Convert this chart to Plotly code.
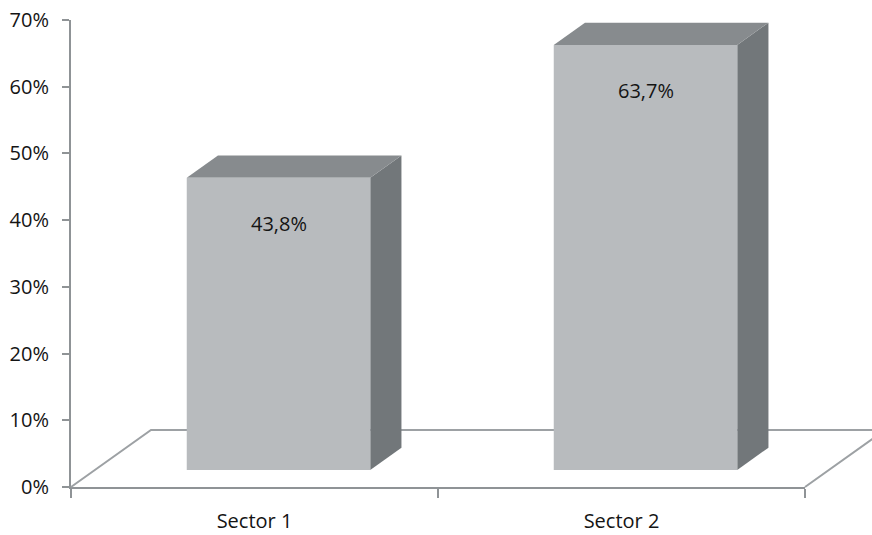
import plotly.graph_objects as go

# Data
categories = ["Sector 1", "Sector 2"]
values = [43.8, 63.7]
y_ticks = [0, 10, 20, 30, 40, 50, 60, 70]

# Figure / plot box geometry (pixels)
W, H = 872, 535
L, R, T, B = 71, 805, 20, 487
Y_MAX = 70

px_per_cat = (R - L) / len(categories)
px_per_pct = (B - T) / Y_MAX

# 3D look: floor depth vector (pixels -> data units)
depth_dx = 80 / px_per_cat
depth_dy = 57 / px_per_pct
f_front, f_back = 0.30, 0.69   # bar depth placement within the floor
half_w = 0.25                  # half bar width, in category units

FRONT = "#b8bbbe"
TOP = "#878b8e"
SIDE = "#72777a"
LINE = "#8f9396"
FLOOR = "#9da1a4"
TXT = "#141414"
FONT = "Open Sans"

fig = go.Figure()

# Main subplot: carries the real axes (ticks, labels)
fig.add_trace(go.Scatter(x=categories, y=values, mode="markers",
                         marker=dict(opacity=0), hoverinfo="skip",
                         showlegend=False, xaxis="x", yaxis="y"))


def poly(xs, ys, color, line_color=None, width=0):
    fig.add_trace(go.Scatter(
        x=xs + [xs[0]], y=ys + [ys[0]], mode="lines", fill="toself",
        fillcolor=color,
        line=dict(color=line_color or color, width=width),
        hoverinfo="skip", showlegend=False, xaxis="x2", yaxis="y2"))


# Floor (parallelogram behind the bars)
x0, x1 = -0.5, len(categories) - 0.5
fig.add_trace(go.Scatter(
    x=[x0, x0 + depth_dx, x1 + depth_dx, x1],
    y=[0, depth_dy, depth_dy, 0],
    mode="lines", line=dict(color=FLOOR, width=2),
    hoverinfo="skip", showlegend=False, xaxis="x2", yaxis="y2"))

annotations = []
for i, v in enumerate(values):
    xl, xr = i - half_w, i + half_w
    fx, fy = f_front * depth_dx, f_front * depth_dy
    bx, by = f_back * depth_dx, f_back * depth_dy
    # side face
    poly([xr + fx, xr + bx, xr + bx, xr + fx],
         [fy, by, v + by, v + fy], SIDE)
    # top face
    poly([xl + fx, xr + fx, xr + bx, xl + bx],
         [v + fy, v + fy, v + by, v + by], TOP)
    # front face
    poly([xl + fx, xr + fx, xr + fx, xl + fx],
         [fy, fy, v + fy, v + fy], FRONT)
    annotations.append(dict(
        x=i + fx, y=v + fy, xref="x2", yref="y2",
        text=f"{v:.1f}".replace(".", ",") + "%",
        showarrow=False, yanchor="middle", yshift=-46,
        font=dict(family=FONT, size=20, color=TXT)))

axis_font = dict(family=FONT, size=20, color=TXT)

fig.update_layout(
    width=W, height=H,
    margin=dict(l=0, r=0, t=0, b=0, autoexpand=False),
    paper_bgcolor="white",
    plot_bgcolor="rgba(0,0,0,0)",
    showlegend=False,
    xaxis=dict(
        domain=[L / W, R / W], anchor="y", automargin=False,
        type="category", categoryarray=categories,
        range=[-0.5, len(categories) - 0.5],
        tickson="boundaries", ticks="outside", ticklen=9,
        tickcolor=LINE, tickwidth=2,
        showline=True, linecolor=LINE, linewidth=2,
        showgrid=False, zeroline=False,
        tickfont=axis_font, ticklabelstandoff=15,
    ),
    yaxis=dict(
        domain=[(H - B) / H, (H - T) / H], anchor="x", automargin=False,
        range=[0, Y_MAX], tickvals=y_ticks,
        ticktext=[f"{t}%" for t in y_ticks],
        ticks="outside", ticklen=7, tickcolor=LINE, tickwidth=2,
        showline=True, linecolor=LINE, linewidth=2,
        showgrid=False, zeroline=False,
        tickfont=axis_font, ticklabelstandoff=9,
    ),
    # Full-figure overlay with the same scale, used for the 3D shapes
    xaxis2=dict(
        domain=[0, 1], anchor="y2", visible=False, automargin=False,
        range=[-0.5 - L / px_per_cat, len(categories) - 0.5 + (W - R) / px_per_cat],
    ),
    yaxis2=dict(
        domain=[0, 1], anchor="x2", visible=False, automargin=False,
        range=[-(H - B) / px_per_pct, Y_MAX + T / px_per_pct],
    ),
    annotations=annotations,
)

fig.write_html("out.html")
